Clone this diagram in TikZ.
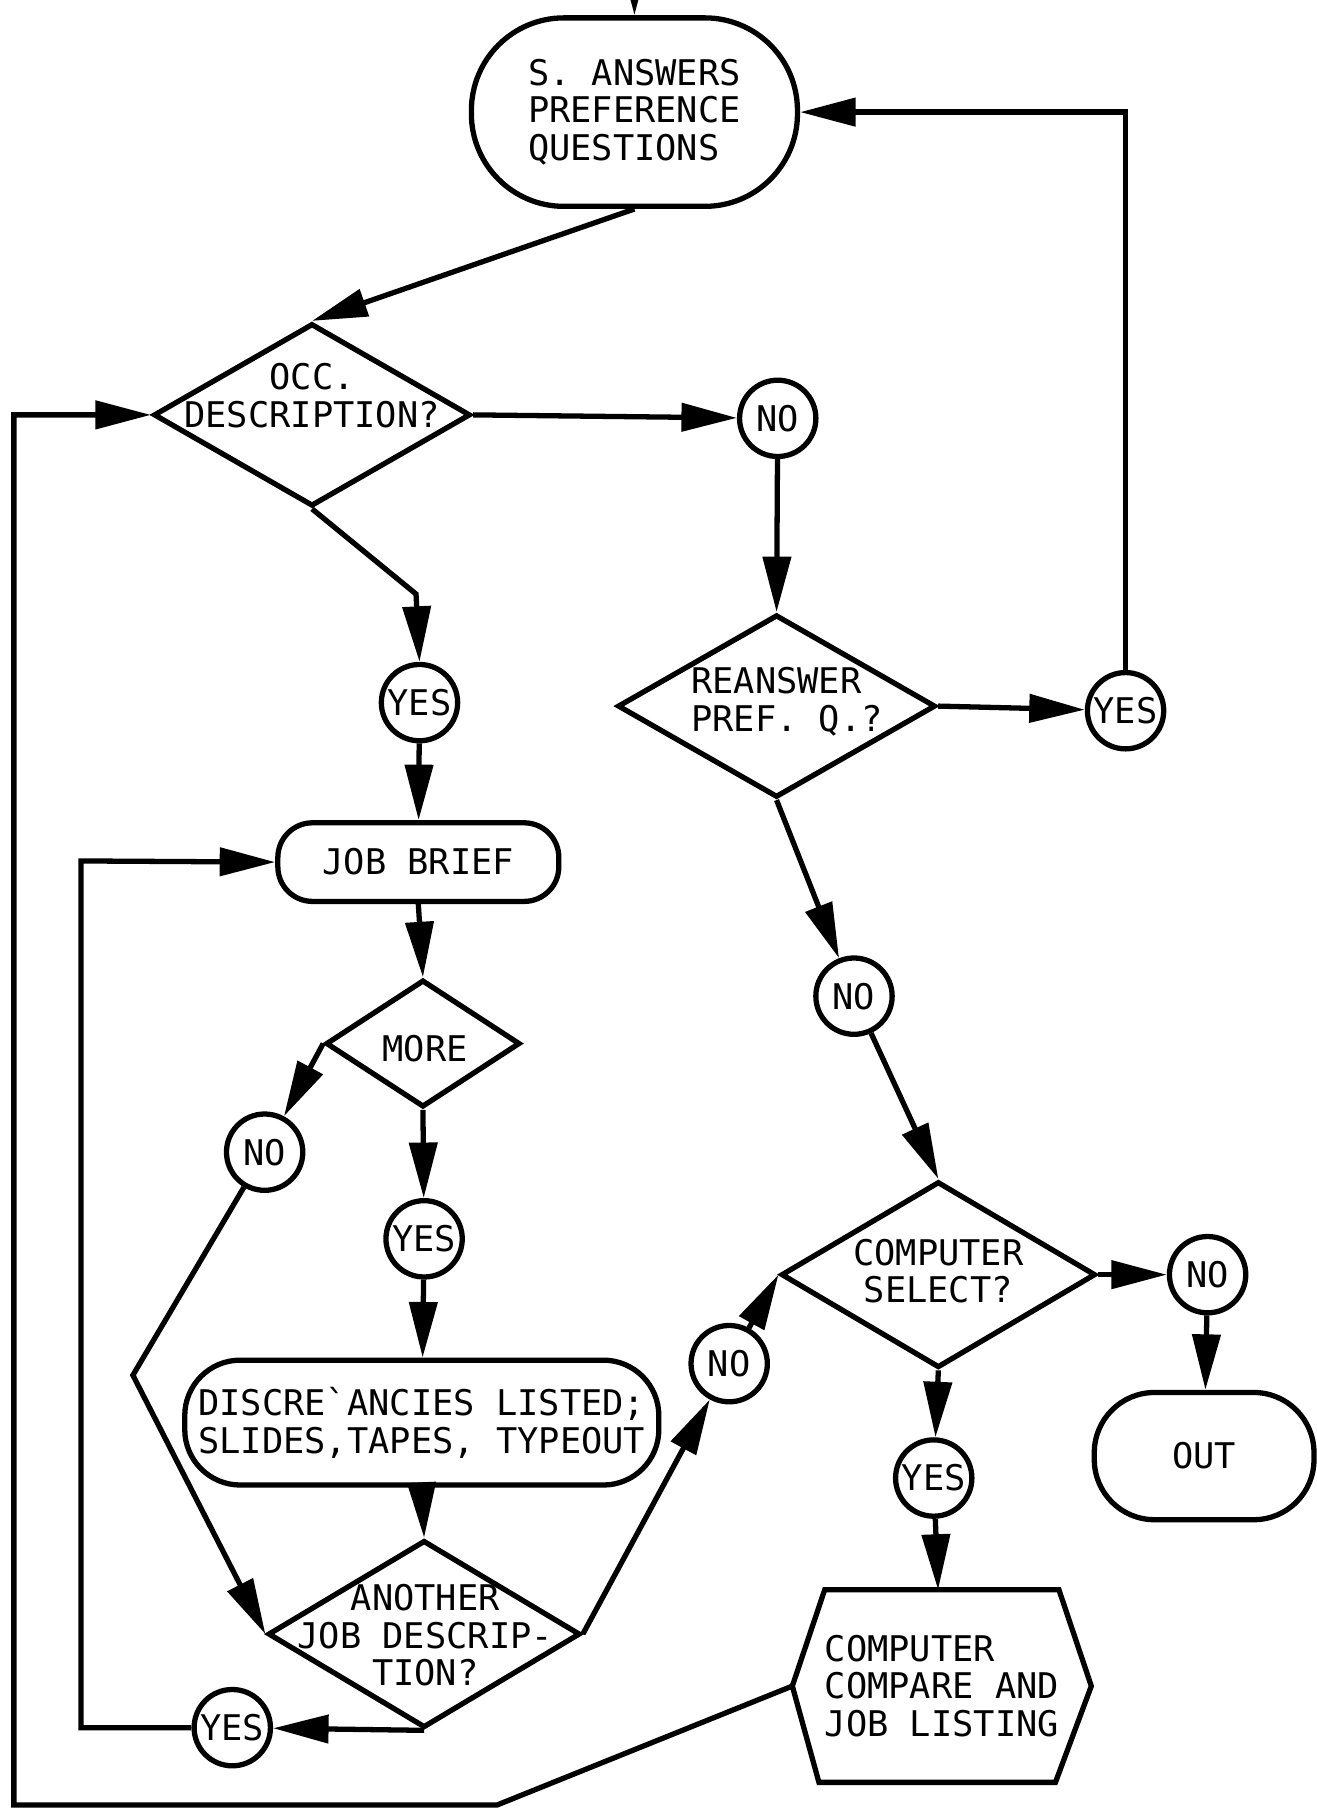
\documentclass[tikz,border=0pt]{standalone}
\usepackage{fontspec}
\newfontfamily\typer{DejaVu Sans Mono}
\usetikzlibrary{shapes.geometric,arrows.meta}

\begin{document}
\begin{tikzpicture}[x=0.01cm, y=-0.01cm, line width=1.3pt,
  font=\typer\fontsize{8.7}{9.3}\selectfont,
  >={Triangle[length=4.8mm,width=2.4mm]},
  res/.style = {draw, circle, minimum size=0.66cm, inner sep=0pt},
  dec/.style = {draw, diamond, inner sep=0pt},
  term/.style = {draw, rectangle, inner sep=0pt},
  txt/.style = {align=center, inner sep=0pt}]
\useasboundingbox (0,0) rectangle (1139,1568);

% boxes
\coordinate (top) at (549,-40);
\node[term, rounded corners=0.8cm, minimum width=2.82cm, minimum height=1.63cm, align=left] (ans) at (549,97) {S. ANSWERS\\PREFERENCE\\QUESTIONS};
\node[term, rounded corners=0.3cm, minimum width=2.43cm, minimum height=0.68cm] (job) at (362,746) {JOB BRIEF};
\node[term, rounded corners=0.48cm, minimum width=4.10cm, minimum height=1.08cm, align=left] (dis) at (365,1231) {DISCRE\textasciigrave{}ANCIES LISTED;\\SLIDES,TAPES, TYPEOUT};
\node[term, rounded corners=0.52cm, minimum width=1.90cm, minimum height=1.10cm] (out) at (1042,1260) {OUT};
\node[inner sep=0pt, minimum width=2.54cm, minimum height=1.62cm, align=left] (cmp) at (815,1459) {COMPUTER\\COMPARE AND\\JOB LISTING};
\draw (cmp.west) -- ([xshift=0.28cm]cmp.north west) -- ([xshift=-0.28cm]cmp.north east) -- (cmp.east)
  -- ([xshift=-0.31cm]cmp.south east) -- ([xshift=0.23cm]cmp.south west) -- cycle;

% decisions
\node[dec, minimum width=2.74cm, minimum height=1.58cm] (occ) at (270,359) {};
\node[txt] (occt) at (270,342) {OCC.\\DESCRIPTION?};
\node[dec, minimum width=2.75cm, minimum height=1.58cm] (rea) at (672,611) {};
\node[txt, align=left] (reat) at (681,607) {REANSWER\\PREF. Q.?};
\node[dec, minimum width=1.68cm, minimum height=1.10cm] (more) at (366,903) {};
\node[txt] (moret) at (368,907) {MORE};
\node[dec, minimum width=2.70cm, minimum height=1.62cm] (ano) at (367,1414) {};
\node[txt] (anot) at (368,1415) {ANOTHER\\JOB DESCRIP-\\TION?};
\node[dec, minimum width=2.72cm, minimum height=1.61cm] (cs) at (812,1103) {};
\node[txt] (cst) at (812,1100) {COMPUTER\\SELECT?};

% answers
\node[res] (occno) at (673,362) {NO};
\node[res] (occyes) at (363,608) {YES};
\node[res] (reayes) at (974,615) {YES};
\node[res] (reano) at (739,862) {NO};
\node[res] (moreno) at (229,997) {NO};
\node[res] (moreyes) at (367,1072) {YES};
\node[res] (anono) at (631,1180) {NO};
\node[res] (anoyes) at (201,1495) {YES};
\node[res] (csno) at (1045,1103) {NO};
\node[res] (csyes) at (808,1279) {YES};

\draw [->] (top) -- (ans.north);
\path [->] (ans.south) edge (occ.north);
\path [->] (occ.east) edge (occno);
\draw [->] (occ.south) -- (360,514) -- (occyes.north);
\path [->] (occyes) edge (job);
\path [->] (job.south) edge (more.north);
\path [->] (more.west) edge (moreno);
\path [->] (more.south) edge (moreyes);
\path [->] (moreyes) edge (dis);
\path [->] (dis.south) edge (ano.north);
\draw [->] (moreno) -- (115,1190) -- (ano.west);
\path [->] (ano.east) edge (anono);
\path [->] (ano.south) edge (anoyes);
\draw [->] (anoyes.west) -- (70,1495) -- (70,745) -- (job.west);
\path [->] (anono) edge (cs.west);
\path [->] (occno) edge (rea.north);
\path [->] (rea.east) edge (reayes);
\draw [->] (reayes.north) -- (974,97) -- (ans.east);
\path [->] (rea.south) edge (reano);
\path [->] (reano) edge (cs.north);
\path [->] (cs.east) edge (csno);
\path [->] (csno) edge (out);
\path [->] (cs.south) edge (csyes);
\path [->] (csyes) edge (cmp);
\draw [->] (cmp.west) -- (430,1562) -- (12,1562) -- (12,359) -- (occ.west);
\end{tikzpicture}
\end{document}
